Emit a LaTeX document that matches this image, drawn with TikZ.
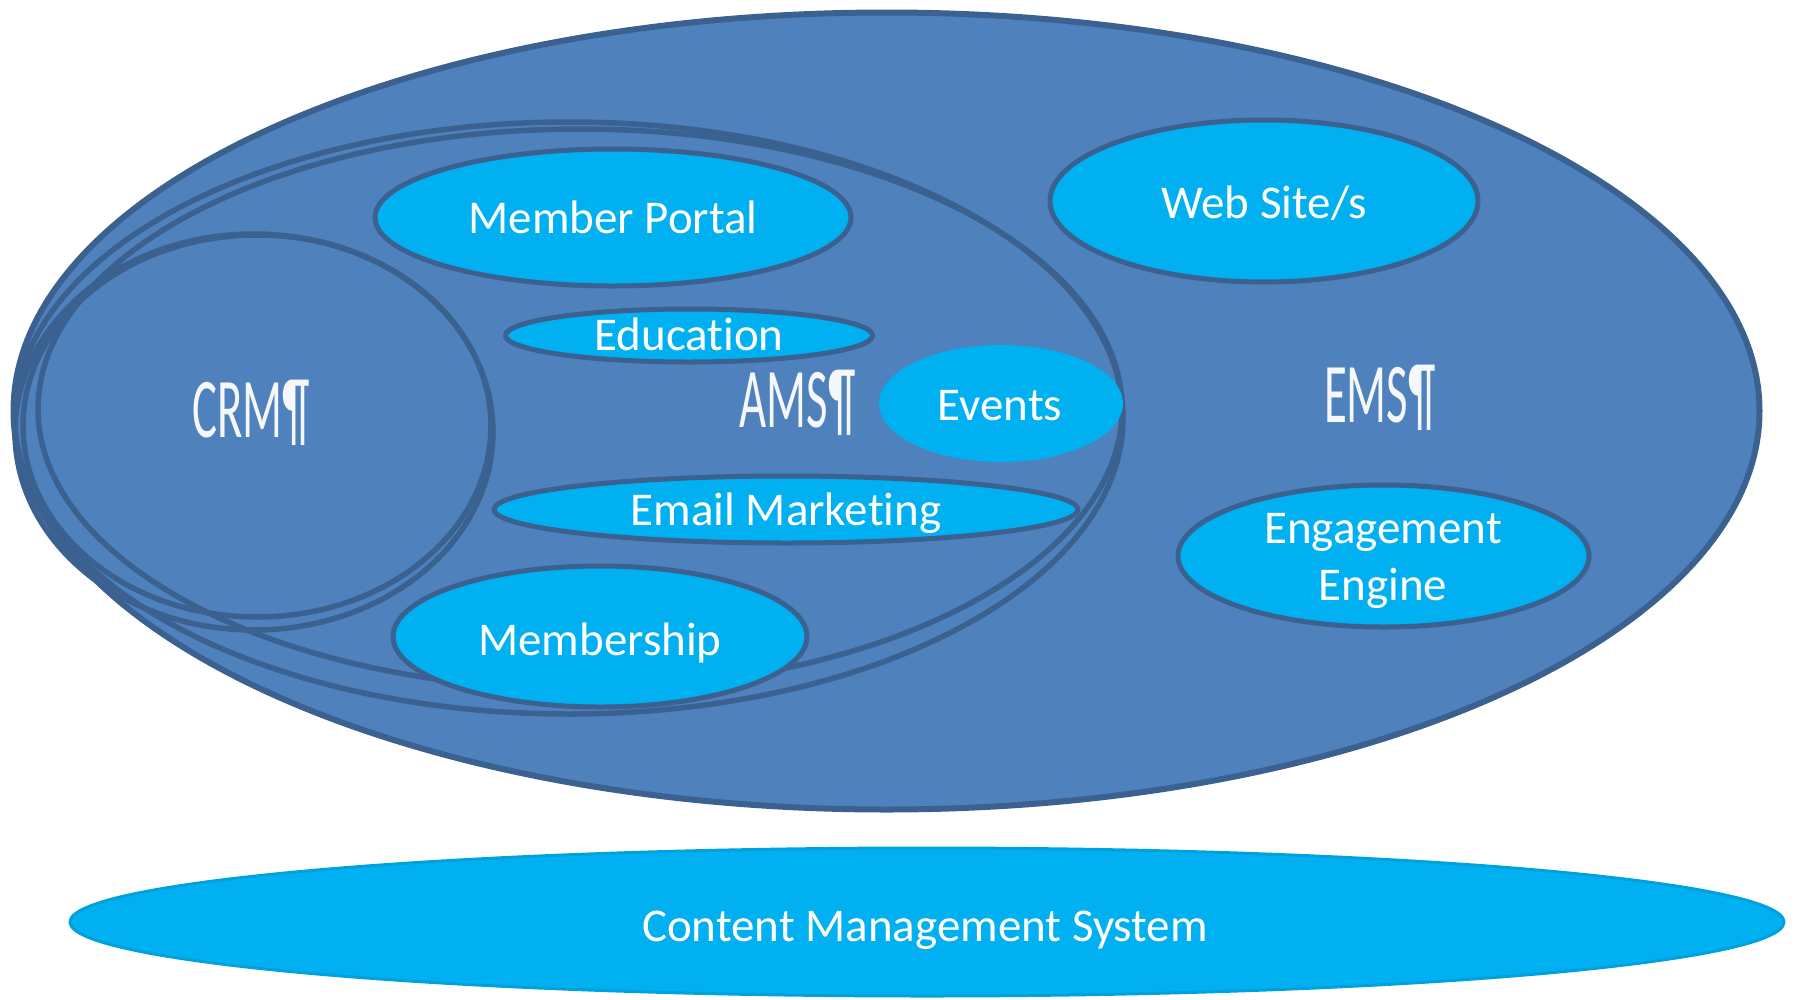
\documentclass[tikz,border=0pt]{standalone}
\usepackage{fontspec}
\usepackage{graphicx}
\setmainfont{Carlito}[Ligatures=NoCommon]
\usetikzlibrary{shapes.geometric}
\definecolor{fillblue}{HTML}{4F81BD}
\definecolor{edgeblue}{HTML}{3A6190}
\definecolor{cyanfill}{HTML}{00B0F0}
\definecolor{cyanedge}{HTML}{00A2DE}
\begin{document}
\begin{tikzpicture}[x=1pt,y=-1pt,
  oval/.style={ellipse, inner sep=0pt, outer sep=0pt},
  bigset/.style={oval, fill=fillblue, draw=edgeblue, line width=6pt},
  setline/.style={oval, draw=edgeblue, line width=5.5pt},
  item/.style={oval, fill=cyanfill, draw=edgeblue, line width=5pt},
  plainitem/.style={oval, fill=cyanfill},
  itemtext/.style={anchor=base, inner sep=0pt, text=white, font=\fontsize{47}{56}\selectfont},
  settext/.style={anchor=base, inner sep=0pt, text=white!94!fillblue, font=\fontsize{85}{85}\selectfont},
]
\useasboundingbox (0,0) rectangle (1794,999);

% outer EMS set
\node[bigset, minimum width=1746pt, minimum height=797pt] (ems) at (886.5,411) {};
% AMS set (doubled outline)
\node[setline, minimum width=1108pt, minimum height=592pt] (amsA) at (569,418) {};
\node[setline, minimum width=1084pt, minimum height=560pt] (amsB) at (580,409) {};
% CRM set (doubled outline)
\node[setline, minimum width=478pt, minimum height=396pt] (crmA) at (254,432) {};
\node[setline, minimum width=468pt, minimum height=382pt] (crmB) at (257,426) {};

% set labels
\node[settext] (crmlbl) at (251.5,437) {\scalebox{0.55}[1]{CRM¶}};
\node[settext] (amslbl) at (797.5,427) {\scalebox{0.55}[1]{AMS¶}};
\node[settext] (emslbl) at (1380,422) {\scalebox{0.55}[1]{EMS¶}};

% items
\node[item, minimum width=476pt, minimum height=137pt] (mp) at (613,217.5) {};
\node[item, minimum width=367pt, minimum height=53pt] (edu) at (689,335.5) {};
\node[plainitem, minimum width=244pt, minimum height=117pt] (evt) at (1001,403.5) {};
\node[item, minimum width=584pt, minimum height=67pt] (eml) at (786,509.5) {};
\node[item, minimum width=414pt, minimum height=141pt] (msh) at (600,636.5) {};
\node[item, minimum width=428pt, minimum height=162pt] (web) at (1264,201) {};
\node[item, minimum width=411pt, minimum height=142pt] (eng) at (1383.5,556) {};
\node[oval, fill=cyanfill, draw=cyanedge, line width=3pt, minimum width=1714pt, minimum height=148pt] (cms) at (927,922) {};

% item labels
\node[itemtext] (mptxt) at (613,233) {Member Portal};
\node[itemtext] (edutxt) at (689,350) {Education};
\node[itemtext] (evttxt) at (1000,420) {Events};
\node[itemtext] (emltxt) at (786,525) {Email Marketing};
\node[itemtext] (mshtxt) at (600,655) {Membership};
\node[itemtext] (webtxt) at (1264,218) {Web Site/s};
\node[itemtext] (engtxtA) at (1383,543) {Engagement};
\node[itemtext] (engtxtB) at (1383,600) {Engine};
\node[itemtext] (cmstxt) at (925,941) {Content Management System};
\end{tikzpicture}
\end{document}
